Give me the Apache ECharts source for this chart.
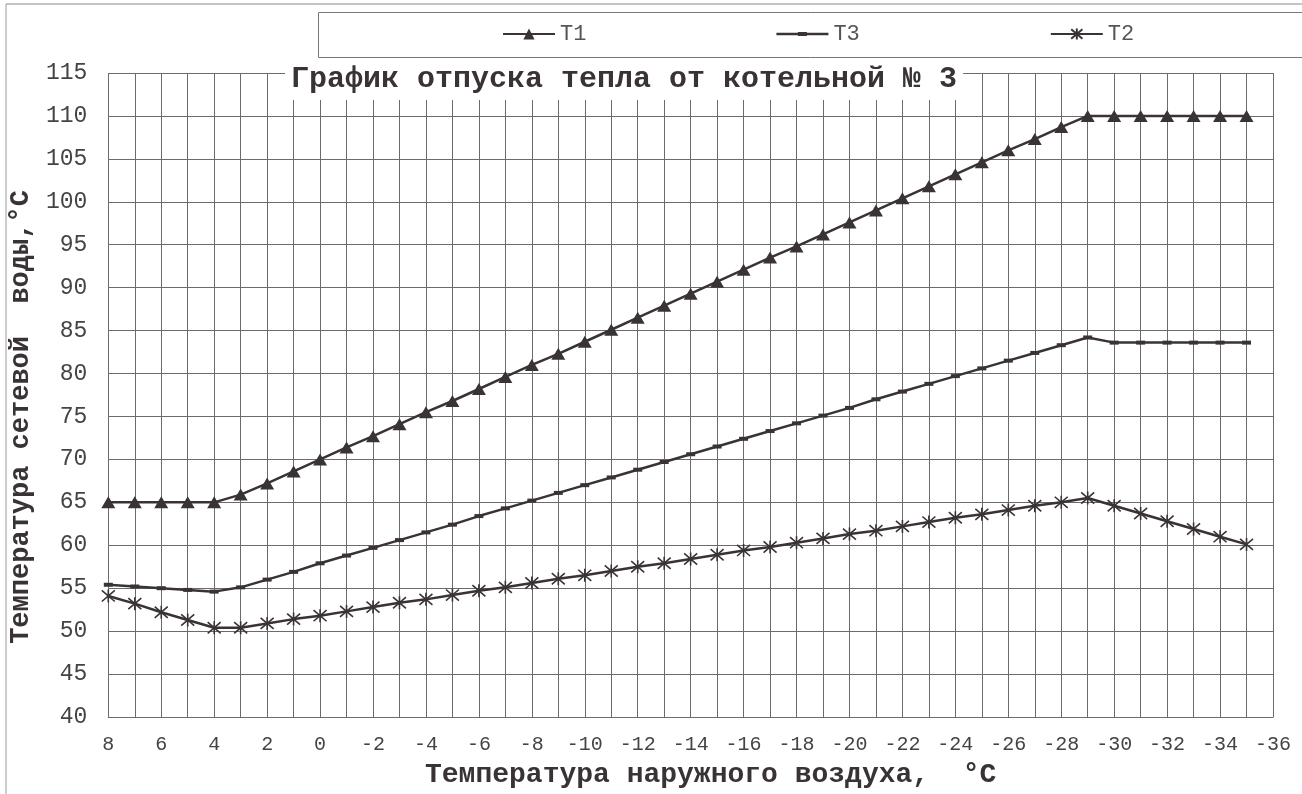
<!DOCTYPE html>
<html>
<head>
<meta charset="utf-8">
<script src="https://cdn.jsdelivr.net/npm/echarts@6/dist/echarts.min.js"></script>
<style>
html,body{margin:0;padding:0;background:#fff;}
#c{width:1302px;height:794px;}
</style>
</head>
<body>
<div id="c"></div>
<script>
// Outdoor air temperature, °C (category axis from +8 down to -36)
const categories = ["8","7","6","5","4","3","2","1","0","-1","-2","-3","-4","-5","-6","-7","-8","-9","-10","-11","-12","-13","-14","-15","-16","-17","-18","-19","-20","-21","-22","-23","-24","-25","-26","-27","-28","-29","-30","-31","-32","-33","-34","-35","-36"];

// Supply water temperature T1
const t1 = [65,65,65,65,65,65.9,67.2,68.6,70,71.4,72.7,74.1,75.5,76.8,78.2,79.6,81,82.3,83.7,85.1,86.5,87.9,89.3,90.7,92.1,93.5,94.8,96.2,97.6,99,100.4,101.8,103.2,104.6,106,107.3,108.7,110,110,110,110,110,110,110];

// T3
const t3 = [55.4,55.2,55.0,54.8,54.6,55.1,56.0,56.9,57.9,58.8,59.7,60.6,61.5,62.4,63.4,64.3,65.2,66.1,67.0,67.9,68.8,69.7,70.6,71.5,72.4,73.3,74.2,75.1,76.0,77.0,77.9,78.8,79.7,80.6,81.5,82.4,83.3,84.2,83.6,83.6,83.6,83.6,83.6,83.6];

// Return water temperature T2
const t2 = [54.1,53.2,52.2,51.3,50.4,50.4,50.9,51.4,51.8,52.3,52.8,53.3,53.7,54.2,54.7,55.1,55.6,56.1,56.5,57.0,57.5,57.9,58.4,58.9,59.4,59.8,60.3,60.8,61.3,61.7,62.2,62.7,63.2,63.6,64.1,64.6,65.0,65.5,64.6,63.7,62.8,61.9,61.0,60.1];

const yMin = 40, yMax = 115, yStep = 5;

const titleText = "График отпуска тепла от котельной № 3";
const xName = "Температура наружного воздуха,  °C";
const yName = "Температура сетевой  воды,°C";

const ink = '#3a3335';
const gridColor = '#6b6b6b';
const mono = '"Liberation Mono", "DejaVu Sans Mono", monospace';
const starPath = 'path://M0,0L12,12M12,0L0,12M6,-1L6,13';
const t3LegendIcon = 'path://M0,0L0.01,0L0.01,0.01Z M0,14L0.01,14L0.01,13.99Z M0,5.8H52V8.2H0Z M21.5,5H30.5V9H21.5Z';

const chart = echarts.init(document.getElementById('c'), null, {renderer: 'canvas'});
chart.setOption({
  backgroundColor: '#ffffff',
  animation: false,
  graphic: [
    {type: 'line', shape: {x1: 6, y1: 4, x2: 1302, y2: 4}, style: {stroke: '#8a8a8a', lineWidth: 1}},
    {type: 'line', shape: {x1: 6, y1: 4, x2: 6, y2: 794}, style: {stroke: '#9a9a9a', lineWidth: 1}},
    {type: 'rect', shape: {x: 318.5, y: 12.5, width: 1010, height: 45}, style: {fill: 'none', stroke: '#777', lineWidth: 1}}
  ],
  title: {
    text: titleText,
    left: 285,
    top: 58,
    padding: [6, 6, 6, 6],
    backgroundColor: '#ffffff',
    textStyle: {fontFamily: mono, fontWeight: 'bold', fontSize: 30, color: ink}
  },
  legend: {
    data: ['T1', {name: 'T3', icon: t3LegendIcon}, 'T2'],
    left: 502,
    top: 23,
    padding: 0,
    itemGap: 190,
    itemWidth: 52,
    itemHeight: 14,
    textStyle: {fontFamily: mono, fontSize: 22, color: '#555'}
  },
  grid: {left: 103, right: 29, top: 73, bottom: 73, containLabel: false},
  xAxis: {
    type: 'category',
    data: categories,
    boundaryGap: false,
    axisLine: {show: true, lineStyle: {color: gridColor, width: 1}},
    axisTick: {show: false},
    axisLabel: {interval: 1, fontFamily: mono, fontSize: 20, color: '#444', margin: 18},
    splitLine: {show: true, interval: 0, lineStyle: {color: gridColor, width: 1}},
    name: xName,
    nameLocation: 'middle',
    nameGap: 44,
    nameTextStyle: {fontFamily: mono, fontWeight: 'bold', fontSize: 28, color: ink, padding: [0, 0, 0, 40]}
  },
  yAxis: {
    type: 'value',
    min: yMin,
    max: yMax,
    interval: yStep,
    axisLine: {show: false},
    axisTick: {show: false},
    axisLabel: {fontFamily: mono, fontSize: 23, color: '#444', margin: 21},
    splitLine: {show: true, lineStyle: {color: gridColor, width: 1}},
    name: yName,
    nameLocation: 'middle',
    nameGap: 70,
    nameTextStyle: {fontFamily: mono, fontWeight: 'bold', fontSize: 27, color: ink, padding: [0, 44, 0, 0]}
  },
  series: [
    {
      name: 'T1', type: 'line', data: t1,
      symbol: 'triangle', symbolSize: [14, 12], showAllSymbol: true,
      lineStyle: {color: ink, width: 2.5},
      itemStyle: {color: ink}
    },
    {
      name: 'T3', type: 'line', data: t3,
      symbol: 'rect', symbolSize: [9, 4], showAllSymbol: true,
      lineStyle: {color: ink, width: 2.5},
      itemStyle: {color: ink}
    },
    {
      name: 'T2', type: 'line', data: t2,
      symbol: starPath, symbolSize: [13, 13], showAllSymbol: true,
      lineStyle: {color: ink, width: 2.5},
      itemStyle: {color: ink, borderColor: ink, borderWidth: 1.6}
    }
  ]
});
</script>
</body>
</html>
